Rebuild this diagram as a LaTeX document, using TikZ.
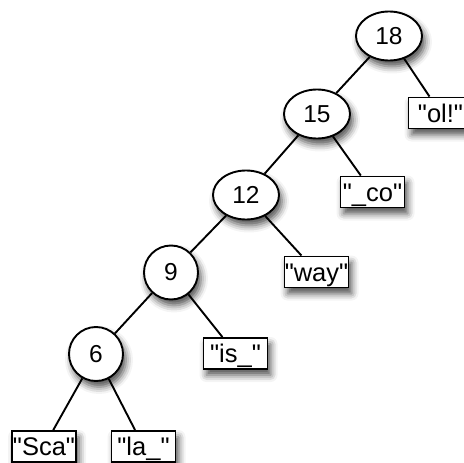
\documentclass[tikz,border=0pt]{standalone}
\usepackage{fontspec}
\newfontfamily\lsans{Liberation Sans}
\usetikzlibrary{shadows.blur}
\tikzset{
  shad/.style={blur shadow={shadow xshift=3pt, shadow yshift=-6pt, shadow blur radius=7pt, shadow opacity=70}},
  inode/.style={ellipse, draw, line width=1.9pt, fill=white, minimum width=66pt, minimum height=49pt, inner sep=0pt, font=\lsans\fontsize{24.5}{24.5}\selectfont, shad},
  cnode/.style={circle, draw, line width=1.9pt, fill=white, minimum size=54pt, inner sep=0pt, font=\lsans\fontsize{24.5}{24.5}\selectfont, shad},
  leaf/.style={rectangle, draw, line width=1.9pt, fill=white, minimum width=64pt, minimum height=31pt, inner sep=0pt, text height=18pt, text depth=0pt, font=\lsans\fontsize{25.5}{25.5}\selectfont, shad},
  edge/.style={line width=1.9pt}
}
\usetikzlibrary{shapes.geometric}
\begin{document}
\begin{tikzpicture}[x=1pt,y=-1pt]
\useasboundingbox (0,0) rectangle (464,463);
\node[inode] (n18) at (389,36) {18};
\node[inode] (n15) at (317,114) {15};
\node[inode] (n12) at (246,195) {12};
\node[cnode] (n9) at (171,272.5) {9};
\node[cnode] (n6) at (96,354) {6};
\node[leaf] (ol) at (440.5,113) {"ol!"};
\node[leaf] (co) at (372.5,192) {"\_co"};
\node[leaf] (way) at (316.5,272) {"way"};
\node[leaf] (is) at (235.5,353.5) {"is\_"};
\node[leaf] (sca) at (44,446.5) {"Sca"};
\node[leaf] (la) at (143.5,446.5) {"la\_"};
\draw[edge] (n18) -- (n15);
\draw[edge] (n18) -- (ol);
\draw[edge] (n15) -- (n12);
\draw[edge] (n15) -- (co);
\draw[edge] (n12) -- (n9);
\draw[edge] (n12) -- (way);
\draw[edge] (n9) -- (n6);
\draw[edge] (n9) -- (is);
\draw[edge] (n6) -- (sca);
\draw[edge] (n6) -- (la);
\end{tikzpicture}
\end{document}
